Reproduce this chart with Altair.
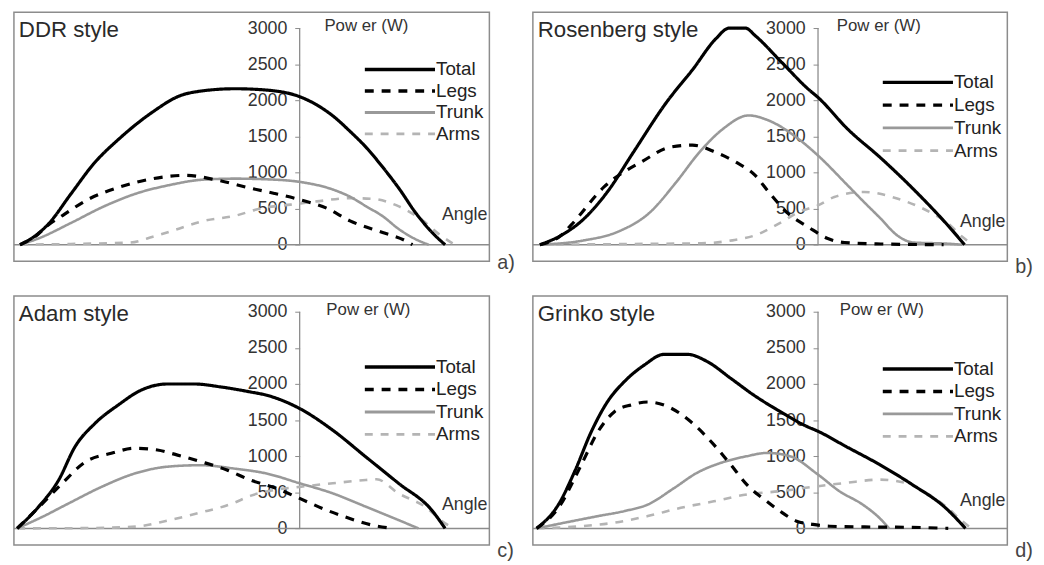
import altair as alt
import pandas as pd

# ---------------- data ----------------
SERIES = ["Arms", "Trunk", "Legs", "Total"]  # draw order (Total on top)
LEGEND_ORDER = ["Total", "Legs", "Trunk", "Arms"]

# a) DDR style
DDR_TOTAL_ANGLE = [-60, -56.8, -54, -49, -44.2, -38.5, -31.5, -25.8, -20.9, -13.9, -6.8, 0, 3.7, 7.3, 10.8, 14.3, 17.8, 21.3, 24.9, 28.4, 31.2]
DDR_TOTAL_POWER = [0, 120, 280, 710, 1120, 1480, 1840, 2060, 2130, 2160, 2140, 2050, 1935, 1775, 1570, 1345, 1075, 780, 440, 170, 0]
DDR_LEGS_ANGLE = [-60, -56.8, -54, -50.5, -45.6, -38.5, -31.5, -24.4, -17.4, -10.4, -5.4, 0.2, 5.8, 10.8, 17.8, 22.7, 24.2]
DDR_LEGS_POWER = [0, 110, 270, 420, 620, 800, 915, 960, 890, 780, 710, 620, 505, 330, 170, 55, 0]
DDR_TRUNK_ANGLE = [-60, -56.1, -49.1, -42, -35, -28, -20.9, -13.9, -6.8, 0, 7.3, 10.8, 14.3, 17.8, 21.3, 24.9, 27.7]
DDR_TRUNK_POWER = [0, 85, 300, 530, 710, 825, 900, 915, 905, 870, 760, 665, 530, 395, 215, 75, 0]
DDR_ARMS_ANGLE = [-60, -49.1, -36.4, -31.5, -26.5, -20.9, -13.9, -8.2, -1.9, 3.7, 10.8, 15.7, 21.3, 26.3, 29.8, 33.3]
DDR_ARMS_POWER = [0, 10, 30, 110, 210, 325, 400, 505, 555, 600, 645, 635, 530, 340, 150, 0]

# b) Rosenberg style
ROS_TOTAL_ANGLE = [-59.8, -55.2, -50.3, -45.3, -39.7, -32.6, -26.9, -22, -19.1, -15.6, -13.5, -7.8, -2.1, 0, 6.4, 13.5, 20.5, 27.6, 31.5]
ROS_TOTAL_POWER = [0, 130, 360, 730, 1280, 1970, 2430, 2850, 3000, 3000, 2895, 2525, 2155, 2040, 1600, 1200, 770, 290, 0]
ROS_LEGS_ANGLE = [-59.8, -55.2, -53.1, -46, -37.5, -31.9, -27, -22, -17.7, -13.5, -10.6, -6.4, -2.1, 2.1, 5.7, 13.5, 18.4, 27]
ROS_LEGS_POWER = [0, 130, 270, 800, 1165, 1350, 1380, 1280, 1145, 960, 730, 430, 245, 85, 30, 10, 5, 0]
ROS_TRUNK_ANGLE = [-59.8, -50.3, -43.2, -36.1, -30.5, -25.5, -20.5, -14.9, -10.6, -4.2, 0, 6.4, 9.9, 13.5, 17, 20.5, 27.6, 31]
ROS_TRUNK_POWER = [0, 60, 175, 450, 865, 1280, 1600, 1790, 1720, 1465, 1235, 820, 590, 360, 130, 30, 15, 0]
ROS_ARMS_ANGLE = [-59.8, -40, -25, -18.4, -13.5, -7.8, -4.2, 0, 3.5, 9.9, 17, 24.1, 27.6, 31, 33.3]
ROS_ARMS_POWER = [0, 10, 20, 60, 130, 315, 450, 545, 660, 730, 640, 450, 315, 110, 0]

# c) Adam style
ADAM_TOTAL_ANGLE = [-60.6, -56, -51.7, -48.2, -43.9, -38.9, -34, -28.3, -22.7, -17, -10.6, -7.1, 0, 7.1, 14.2, 21.2, 28.3, 31.2]
ADAM_TOTAL_POWER = [0, 300, 670, 1130, 1455, 1710, 1915, 2000, 2000, 1960, 1890, 1845, 1660, 1360, 990, 625, 255, 0]
ADAM_LEGS_ANGLE = [-60.6, -56, -51, -46, -40.4, -35.4, -30.5, -26.2, -21.2, -15.6, -10.6, -5, 0, 5.7, 10.6, 15.6, 19.8]
ADAM_LEGS_POWER = [0, 290, 620, 920, 1040, 1110, 1085, 1015, 925, 810, 670, 555, 415, 255, 140, 45, 0]
ADAM_TRUNK_ANGLE = [-60.6, -55.2, -49.6, -42.5, -35.4, -28.3, -21.2, -14.2, -7.1, 0, 7.1, 14.2, 21.2, 25.5]
ADAM_TRUNK_POWER = [0, 160, 345, 575, 760, 855, 875, 830, 760, 625, 485, 300, 115, 0]
ADAM_ARMS_ANGLE = [-60.6, -45, -35, -28.3, -21.2, -14.2, -10.6, -5.7, 0, 7.1, 14.2, 16.5, 21.2, 26.9, 31.2, 33.3]
ADAM_ARMS_POWER = [0, 5, 25, 110, 220, 350, 450, 530, 575, 625, 670, 680, 485, 300, 70, 0]

# d) Grinko style
GRI_TOTAL_ANGLE = [-60.5, -55.8, -52.3, -48.7, -45.2, -41.6, -37.3, -33.1, -28.1, -23.8, -18.8, -13.9, -8.2, -2.5, 0, 6, 13.2, 20.3, 27.4, 31.7]
GRI_TOTAL_POWER = [0, 330, 790, 1345, 1760, 2035, 2265, 2410, 2410, 2310, 2080, 1850, 1620, 1415, 1345, 1135, 885, 605, 285, 0]
GRI_LEGS_ANGLE = [-60.5, -55.8, -50.9, -47.3, -43.7, -40.2, -36.6, -32.4, -27.4, -22.4, -18.8, -15.3, -11, -8.2, -4.6, -1.1, 2.5, 10, 20, 28]
GRI_LEGS_POWER = [0, 285, 880, 1340, 1620, 1710, 1750, 1690, 1480, 1160, 885, 605, 375, 240, 100, 55, 30, 20, 15, 0]
GRI_TRUNK_ANGLE = [-60.5, -54.4, -47.3, -41.6, -36.6, -30.9, -26, -21, -15.3, -11, -6, 0, 4.6, 9.6, 13.2, 15.3]
GRI_TRUNK_POWER = [0, 80, 170, 240, 330, 560, 770, 905, 1000, 1045, 1000, 745, 515, 330, 145, 0]
GRI_ARMS_ANGLE = [-60.5, -50.9, -43.7, -36.6, -29.5, -22.4, -15.3, -8.2, 0, 6, 13.2, 18.8, 23.8, 27.4, 31, 33]
GRI_ARMS_POWER = [0, 30, 80, 170, 285, 375, 470, 515, 585, 630, 675, 630, 470, 310, 100, 0]

Y_TICKS = [0, 500, 1000, 1500, 2000, 2500, 3000]

# ---------------- styles ----------------
FONT = "Liberation Sans"
STYLE = {
    "Total": dict(color="#000000", strokeWidth=3.2, strokeDash=[1, 0]),
    "Legs": dict(color="#000000", strokeWidth=3.2, strokeDash=[9, 8]),
    "Trunk": dict(color="#999999", strokeWidth=2.6, strokeDash=[1, 0]),
    "Arms": dict(color="#b4b4b4", strokeWidth=2.6, strokeDash=[8, 8]),
}
X_DOMAIN = [-61.3, 40.7]
Y_DOMAIN = [-230, 3220]
H = 252
GRAY = "#8c8c8c"


def make_df(total, legs, trunk, arms):
    rows = []
    for name, (ang, pw) in zip(["Total", "Legs", "Trunk", "Arms"], [total, legs, trunk, arms]):
        for a, p in zip(ang, pw):
            rows.append({"series": name, "angle": a, "power": p})
    return pd.DataFrame(rows)


def panel(df, title, tag, W, leg_top, leg_step, power_dx, angle_y, tag_y):
    xs = alt.Scale(domain=X_DOMAIN, nice=False, zero=False)
    ys = alt.Scale(domain=Y_DOMAIN, nice=False, zero=False)
    axis_px = (0 - X_DOMAIN[0]) / (X_DOMAIN[1] - X_DOMAIN[0]) * W
    yaxis = alt.Axis(values=Y_TICKS, format="d", grid=False, domain=False, title=None,
                     offset=-axis_px, tickSize=5, tickColor=GRAY, tickWidth=1,
                     labelPadding=8, labelFont=FONT, labelFontSize=18, labelColor="#333333")
    X = alt.X("angle:Q", scale=xs, axis=None)
    Y = alt.Y("power:Q", scale=ys, axis=yaxis)

    one = pd.DataFrame({"k": [0]})
    layers = []
    # zero line across the plot
    layers.append(alt.Chart(one).mark_rule(color=GRAY, strokeWidth=1.5).encode(
        x=alt.value(0), x2=alt.value(W),
        y=alt.YDatum(0, type="quantitative", scale=ys, axis=yaxis)))
    # vertical axis line from 0 to 3000 at angle 0
    layers.append(alt.Chart(one).mark_rule(color=GRAY, strokeWidth=1.3).encode(
        x=alt.XDatum(0, type="quantitative", scale=xs, axis=None),
        y=alt.YDatum(0, type="quantitative", scale=ys, axis=yaxis),
        y2=alt.datum(3000)))
    for s in SERIES:
        st = STYLE[s]
        layers.append(alt.Chart(df).transform_filter(alt.datum.series == s).mark_line(
            interpolate="monotone", color=st["color"], strokeWidth=st["strokeWidth"],
            strokeDash=st["strokeDash"]).encode(x=X, y=Y, order="angle:Q"))
    # legend
    for i, s in enumerate(LEGEND_ORDER):
        st = STYLE[s]
        yy = leg_top + i * leg_step
        layers.append(alt.Chart(one).mark_rule(color=st["color"], strokeWidth=st["strokeWidth"] + 0.3,
                                               strokeDash=st["strokeDash"]).encode(
            x=alt.value(W - 126), x2=alt.value(W - 55), y=alt.value(yy)))
        layers.append(alt.Chart(pd.DataFrame({"t": [s]})).mark_text(
            align="left", baseline="middle", font=FONT, fontSize=19, color="#222222").encode(
            text="t:N", x=alt.value(W - 54), y=alt.value(yy)))
    # texts
    layers.append(alt.Chart(pd.DataFrame({"t": [title]})).mark_text(
        align="left", baseline="alphabetic", font=FONT, fontSize=22.5, color="#2a2a2a").encode(
        text="t:N", x=alt.value(5), y=alt.value(25)))
    layers.append(alt.Chart(pd.DataFrame({"t": ["Pow er (W)"]})).mark_text(
        align="left", baseline="alphabetic", font=FONT, fontSize=17, color="#333333",
        dx=power_dx).encode(
        text="t:N", x=alt.XDatum(0, type="quantitative", scale=xs, axis=None), y=alt.value(19)))
    layers.append(alt.Chart(pd.DataFrame({"t": ["Angle"]})).mark_text(
        align="left", baseline="middle", font=FONT, fontSize=18, color="#333333").encode(
        text="t:N", x=alt.value(W - 48), y=alt.value(angle_y)))
    layers.append(alt.Chart(pd.DataFrame({"t": [tag]})).mark_text(
        align="left", baseline="middle", font=FONT, fontSize=20, color="#444444").encode(
        text="t:N", x=alt.value(W + 8), y=alt.value(tag_y)))
    return alt.layer(*layers).properties(width=W, height=H)


pa = panel(make_df((DDR_TOTAL_ANGLE, DDR_TOTAL_POWER), (DDR_LEGS_ANGLE, DDR_LEGS_POWER),
                   (DDR_TRUNK_ANGLE, DDR_TRUNK_POWER), (DDR_ARMS_ANGLE, DDR_ARMS_POWER)),
           "DDR style", "a)", 481, 58, 21.7, 25, 205, 254)
pb = panel(make_df((ROS_TOTAL_ANGLE, ROS_TOTAL_POWER), (ROS_LEGS_ANGLE, ROS_LEGS_POWER),
                   (ROS_TRUNK_ANGLE, ROS_TRUNK_POWER), (ROS_ARMS_ANGLE, ROS_ARMS_POWER)),
           "Rosenberg style", "b)", 480, 71, 23, 19, 212, 258)
pc = panel(make_df((ADAM_TOTAL_ANGLE, ADAM_TOTAL_POWER), (ADAM_LEGS_ANGLE, ADAM_LEGS_POWER),
                   (ADAM_TRUNK_ANGLE, ADAM_TRUNK_POWER), (ADAM_ARMS_ANGLE, ADAM_ARMS_POWER)),
           "Adam style", "c)", 481, 72, 22.7, 27, 212, 258)
pd_ = panel(make_df((GRI_TOTAL_ANGLE, GRI_TOTAL_POWER), (GRI_LEGS_ANGLE, GRI_LEGS_POWER),
                    (GRI_TRUNK_ANGLE, GRI_TRUNK_POWER), (GRI_ARMS_ANGLE, GRI_ARMS_POWER)),
            "Grinko style", "d)", 480, 74, 22.7, 22, 208, 258)

chart = alt.concat(pa, pb, pc, pd_, columns=2, spacing={"row": 35, "column": 44},
                   bounds="flush").properties(
    padding={"left": 2, "top": 0, "right": 2, "bottom": 2},
    background="white",
).configure_view(stroke=GRAY, strokeWidth=1.5)

chart.save("out.html", embed_options={"renderer": "svg", "actions": False})
